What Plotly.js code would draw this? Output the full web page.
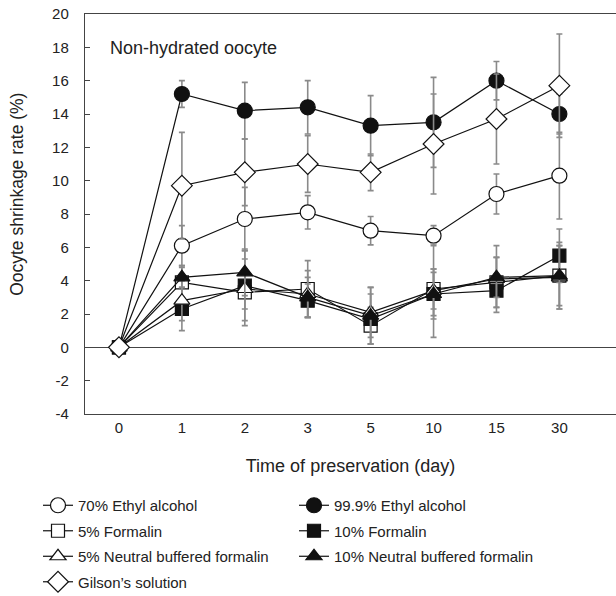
<!DOCTYPE html>
<html>
<head>
<meta charset="utf-8">
<script src="https://cdn.plot.ly/plotly-3.0.1.min.js"></script>
<style>html,body{margin:0;padding:0;background:#fff;}#chart{width:616px;height:596px;}</style>
</head>
<body>
<div id="chart"></div>
<script>
var days = ["0", "1", "2", "3", "5", "10", "15", "30"];
var yTickVals = [-4, -2, 0, 2, 4, 6, 8, 10, 12, 14, 16, 18, 20];
var yTickText = ["-4", "-2", "0", "2", "4", "6", "8", "10", "12", "14", "16", "18", "20"];

var ea70 = [0, 6.1, 7.7, 8.1, 7.0, 6.7, 9.2, 10.3];
var ea70Err = [0, 1.2, 1.9, 1.0, 0.85, 0.6, 1.2, 2.6];

var ea999 = [0, 15.2, 14.2, 14.4, 13.3, 13.5, 16.0, 14.0];
var ea999Err = [0, 0.8, 1.7, 1.6, 1.8, 2.7, 1.15, 1.2];

var f5 = [0, 3.9, 3.3, 3.5, 1.3, 3.5, 3.9, 4.3];
var f5Err = [0, 1.0, 2.0, 1.7, 1.1, 1.2, 1.5, 1.8];

var f10 = [0, 2.3, 3.7, 2.8, 1.7, 3.2, 3.4, 5.5];
var f10Err = [0, 1.3, 2.1, 1.0, 1.5, 1.5, 1.0, 1.6];

var nbf5 = [0, 2.8, 3.5, 3.2, 2.1, 3.4, 4.1, 4.2];
var nbf5Err = [0, 1.2, 1.2, 1.4, 1.5, 2.8, 2.0, 1.9];

var nbf10 = [0, 4.2, 4.5, 3.0, 1.9, 3.2, 4.2, 4.3];
var nbf10Err = [0, 0.6, 1.4, 1.2, 1.7, 1.3, 1.2, 2.0];

var gilson = [0, 9.7, 10.5, 11.0, 10.5, 12.2, 13.7, 15.7];
var gilsonErr = [0, 3.2, 2.0, 1.7, 1.1, 3.0, 2.7, 3.1];

var names = ["70% Ethyl alcohol", "99.9% Ethyl alcohol", "5% Formalin", "10% Formalin",
             "5% Neutral buffered formalin", "10% Neutral buffered formalin", "Gilson\u2019s solution"];
var yTitle = "Oocyte shrinkage rate (%)";
var xTitle = "Time of preservation (day)";
var panelLabel = "Non-hydrated oocyte";

function tr(name, y, err, symbol, fill, size, legendId, rank) {
  return {
    type: 'scatter', mode: 'lines+markers', name: name,
    x: days, y: y,
    legend: legendId, legendgroup: name, legendrank: rank,
    line: {color: '#111', width: 1.2},
    marker: {symbol: symbol, size: size, color: fill, line: {color: '#111', width: 1.2}},
    error_y: {type: 'data', array: err, visible: true, color: '#8a8a8a', thickness: 1.6, width: 3},
    cliponaxis: false
  };
}

var data = [
  tr(names[0], ea70, ea70Err, 'circle', '#fff', 15, 'legend', 1),
  tr(names[1], ea999, ea999Err, 'circle', '#111', 15, 'legend2', 1),
  tr(names[2], f5, f5Err, 'square', '#fff', 13, 'legend', 2),
  tr(names[3], f10, f10Err, 'square', '#111', 13, 'legend2', 2),
  tr(names[4], nbf5, nbf5Err, 'triangle-up', '#fff', 14, 'legend', 3),
  tr(names[5], nbf10, nbf10Err, 'triangle-up', '#111', 14, 'legend2', 3),
  tr(names[6], gilson, gilsonErr, 'diamond', '#fff', 16, 'legend', 4)
];

function legendCfg(x) {
  return {
    orientation: 'v', xref: 'container', yref: 'container',
    x: x, y: 0.1795, xanchor: 'left', yanchor: 'top',
    tracegroupgap: 3, itemwidth: 30,
    font: {size: 15, color: '#222'},
    bgcolor: 'rgba(0,0,0,0)'
  };
}

var layout = {
  width: 616, height: 596,
  margin: {l: 85, r: 0, t: 14, b: 182, autoexpand: false},
  paper_bgcolor: '#fff', plot_bgcolor: '#fff',
  font: {family: 'Liberation Sans, Arial, sans-serif', color: '#222', size: 14},
  showlegend: true,
  legend: legendCfg(38 / 616),
  legend2: legendCfg(294 / 616),
  xaxis: {
    type: 'category', range: [-0.54, 7.9],
    showgrid: false, zeroline: false,
    showline: true, mirror: true, linecolor: '#444', linewidth: 1.2,
    ticks: '', tickfont: {size: 15},
    title: {text: xTitle, font: {size: 18}, standoff: 24}
  },
  yaxis: {
    range: [-4, 20], tickvals: yTickVals, ticktext: yTickText,
    showgrid: false, zeroline: true, zerolinecolor: '#444', zerolinewidth: 1.2,
    showline: true, linecolor: '#444', linewidth: 1.2,
    ticks: 'inside', ticklen: 5, tickcolor: '#444', tickfont: {size: 15},
    ticklabelstandoff: 12
  },
  annotations: [{
    xref: 'paper', yref: 'paper', x: -0.128, y: 0.548, xanchor: 'center', yanchor: 'middle',
    text: yTitle, textangle: -90, showarrow: false, font: {size: 17.5, color: '#222'}
  }, {
    xref: 'paper', yref: 'paper', x: 0.043, y: 0.915, xanchor: 'left', yanchor: 'middle',
    text: panelLabel, showarrow: false, font: {size: 18, color: '#222'}
  }]
};

Plotly.newPlot('chart', data, layout, {displayModeBar: false, staticPlot: true});
</script>
</body>
</html>
